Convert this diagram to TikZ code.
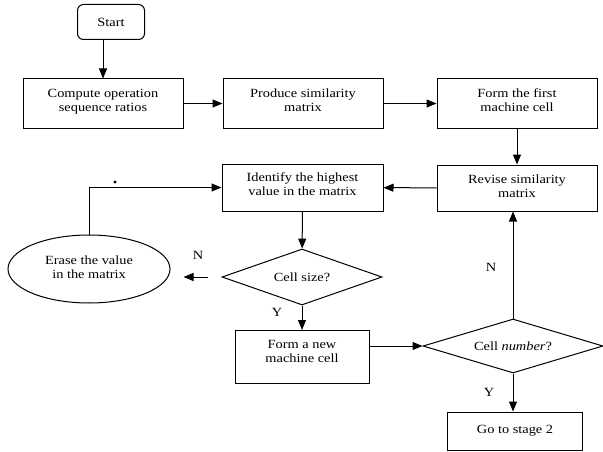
\documentclass[tikz,border=0pt]{standalone}
\usepackage{fontspec}
\setmainfont{Liberation Serif}[FakeStretch=1.15]
\usetikzlibrary{shapes.geometric,arrows.meta}
\begin{document}
\begin{tikzpicture}[x=1pt,y=-1pt,
  font=\fontsize{12.5}{14}\selectfont,
  line width=1pt,
  >={Triangle[length=10pt,width=8pt]},
  box/.style={draw, rectangle, align=center, inner sep=0pt},
  dia/.style={draw, diamond, aspect=3, inner sep=0pt, align=center},
  lbl/.style={inner sep=0pt}]
\useasboundingbox (0,0) rectangle (603,452);
\node[box, rounded corners=6pt, minimum width=67pt, minimum height=35pt] (start) at (111,22) {Start};
\node[box, minimum width=160pt, minimum height=49pt] (compute) at (103,103.5) {Compute operation\\sequence ratios\\[-7pt]};
\node[box, minimum width=160pt, minimum height=49pt] (produce) at (303,103.5) {Produce similarity\\matrix\\[-7pt]};
\node[box, minimum width=160pt, minimum height=49pt] (form1) at (517,103.5) {Form the first\\machine cell\\[-7pt]};
\node[box, minimum width=160pt, minimum height=46pt] (revise) at (517,188) {Revise similarity\\matrix\\[-10pt]};
\node[box, minimum width=161pt, minimum height=47pt] (identify) at (302.5,187.5) {Identify the highest\\value in the matrix\\[-7pt]};
\node[dia, minimum width=160pt, minimum height=56pt] (csize) at (302,277) {Cell size?};
\node[draw, ellipse, inner sep=0pt, minimum width=162pt, minimum height=68pt, align=center] (erase) at (89,269) {Erase the value\\in the matrix\\[-10pt]};
\node[box, minimum width=134pt, minimum height=53pt] (newcell) at (302,357) {Form a new\\machine cell\\[-3pt]};
\node[dia, minimum width=180pt, minimum height=54pt] (cnum) at (513,346) {Cell \textit{number}?};
\node[box, minimum width=135pt, minimum height=38pt] (go) at (515,431) {Go to stage 2};

\draw[->] (start.south -| compute.north) -- (compute.north);
\draw[->] (compute) -- (produce);
\draw[->] (produce) -- (form1);
\draw[->] (form1) -- (revise);
\draw[->] (revise) -- (identify);
\draw[->] (identify) -- (csize);
\draw[->] (csize) -- (newcell);
\draw[->] ([xshift=-14pt]csize.west) -- ([xshift=13pt]erase.east |- csize.west);
\draw[->] (erase.north) |- (identify.west);
\draw[->] (newcell.east |- cnum.west) -- (cnum.west);
\draw[->] (cnum.north) -- (revise.south -| cnum.north);
\draw[->] (cnum.south) -- (go.north -| cnum.south);

\fill (115,182) circle (1.6pt);
\node[lbl] (ln1) at (198,255) {N};
\node[lbl] (ly1) at (277,312) {Y};
\node[lbl] (ln2) at (491,267) {N};
\node[lbl] (ly2) at (489,392) {Y};
\end{tikzpicture}
\end{document}
